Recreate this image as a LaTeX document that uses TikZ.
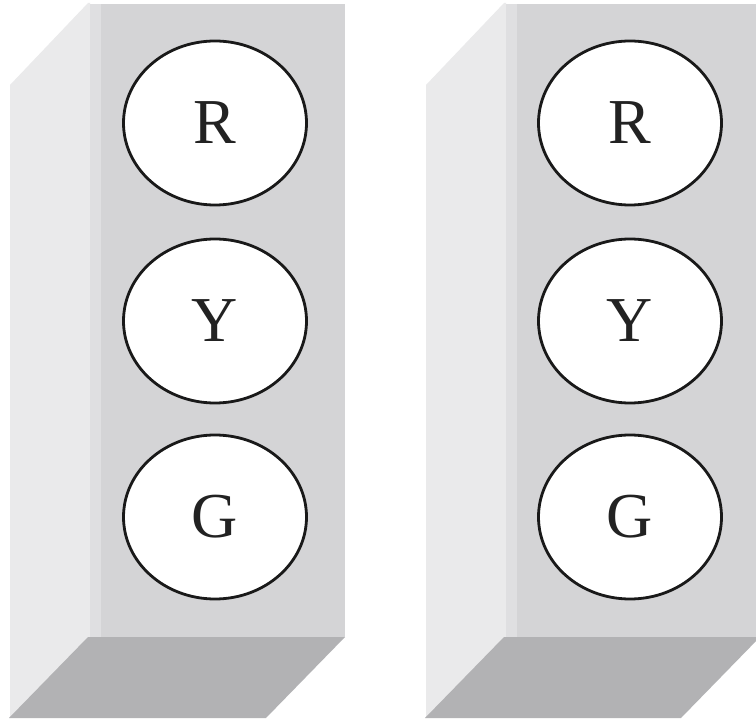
\documentclass[tikz,border=0pt]{standalone}
\usepackage{fontspec}
\setmainfont{Liberation Serif}
\usetikzlibrary{shapes.geometric}
\definecolor{sideface}{RGB}{234,234,235}
\definecolor{frontface}{RGB}{212,212,214}
\definecolor{edgeface}{RGB}{223,223,225}
\definecolor{baseface}{RGB}{178,178,180}
\definecolor{lettergray}{RGB}{34,34,34}
\tikzset{
  lamp/.style={ellipse, draw=black!90, line width=2.8pt, fill=white,
    minimum width=183pt, minimum height=164pt, inner sep=0pt,
    text=lettergray, font=\fontsize{64}{64}\selectfont}
}
% one signal housing: front face, slanted left side, slanted base
\newcommand{\signalhousing}[2]{%
  % #1 = left x of front face, #2 = right x of front face
  \fill[sideface] (#1-80,85) -- (#1-2,3) -- (#1,3) -- (#1,637) -- (#1-80,718) -- cycle;
  \fill[frontface] (#1,4) rectangle (#2,637);
  \fill[edgeface] (#1,4) rectangle (#1+11,637);
  \fill[baseface] (#1-2,637) -- (#2,637) -- (#2-79,718) -- (#1-81,718) -- cycle;
}
\begin{document}
\begin{tikzpicture}[x=1pt,y=-1pt]
  \useasboundingbox (0,0) rectangle (756,722);
  \fill[white] (0,0) rectangle (756,722);
  \signalhousing{90}{345}
  \signalhousing{506}{760}
  % lamps of the first housing
  \node[lamp] (r1) at (215,123) {R};
  \node[lamp] (y1) at (215,321) {Y};
  \node[lamp] (g1) at (215,517) {G};
  % lamps of the second housing
  \node[lamp] (r2) at (630,123) {R};
  \node[lamp] (y2) at (630,321) {Y};
  \node[lamp] (g2) at (630,517) {G};
\end{tikzpicture}
\end{document}
